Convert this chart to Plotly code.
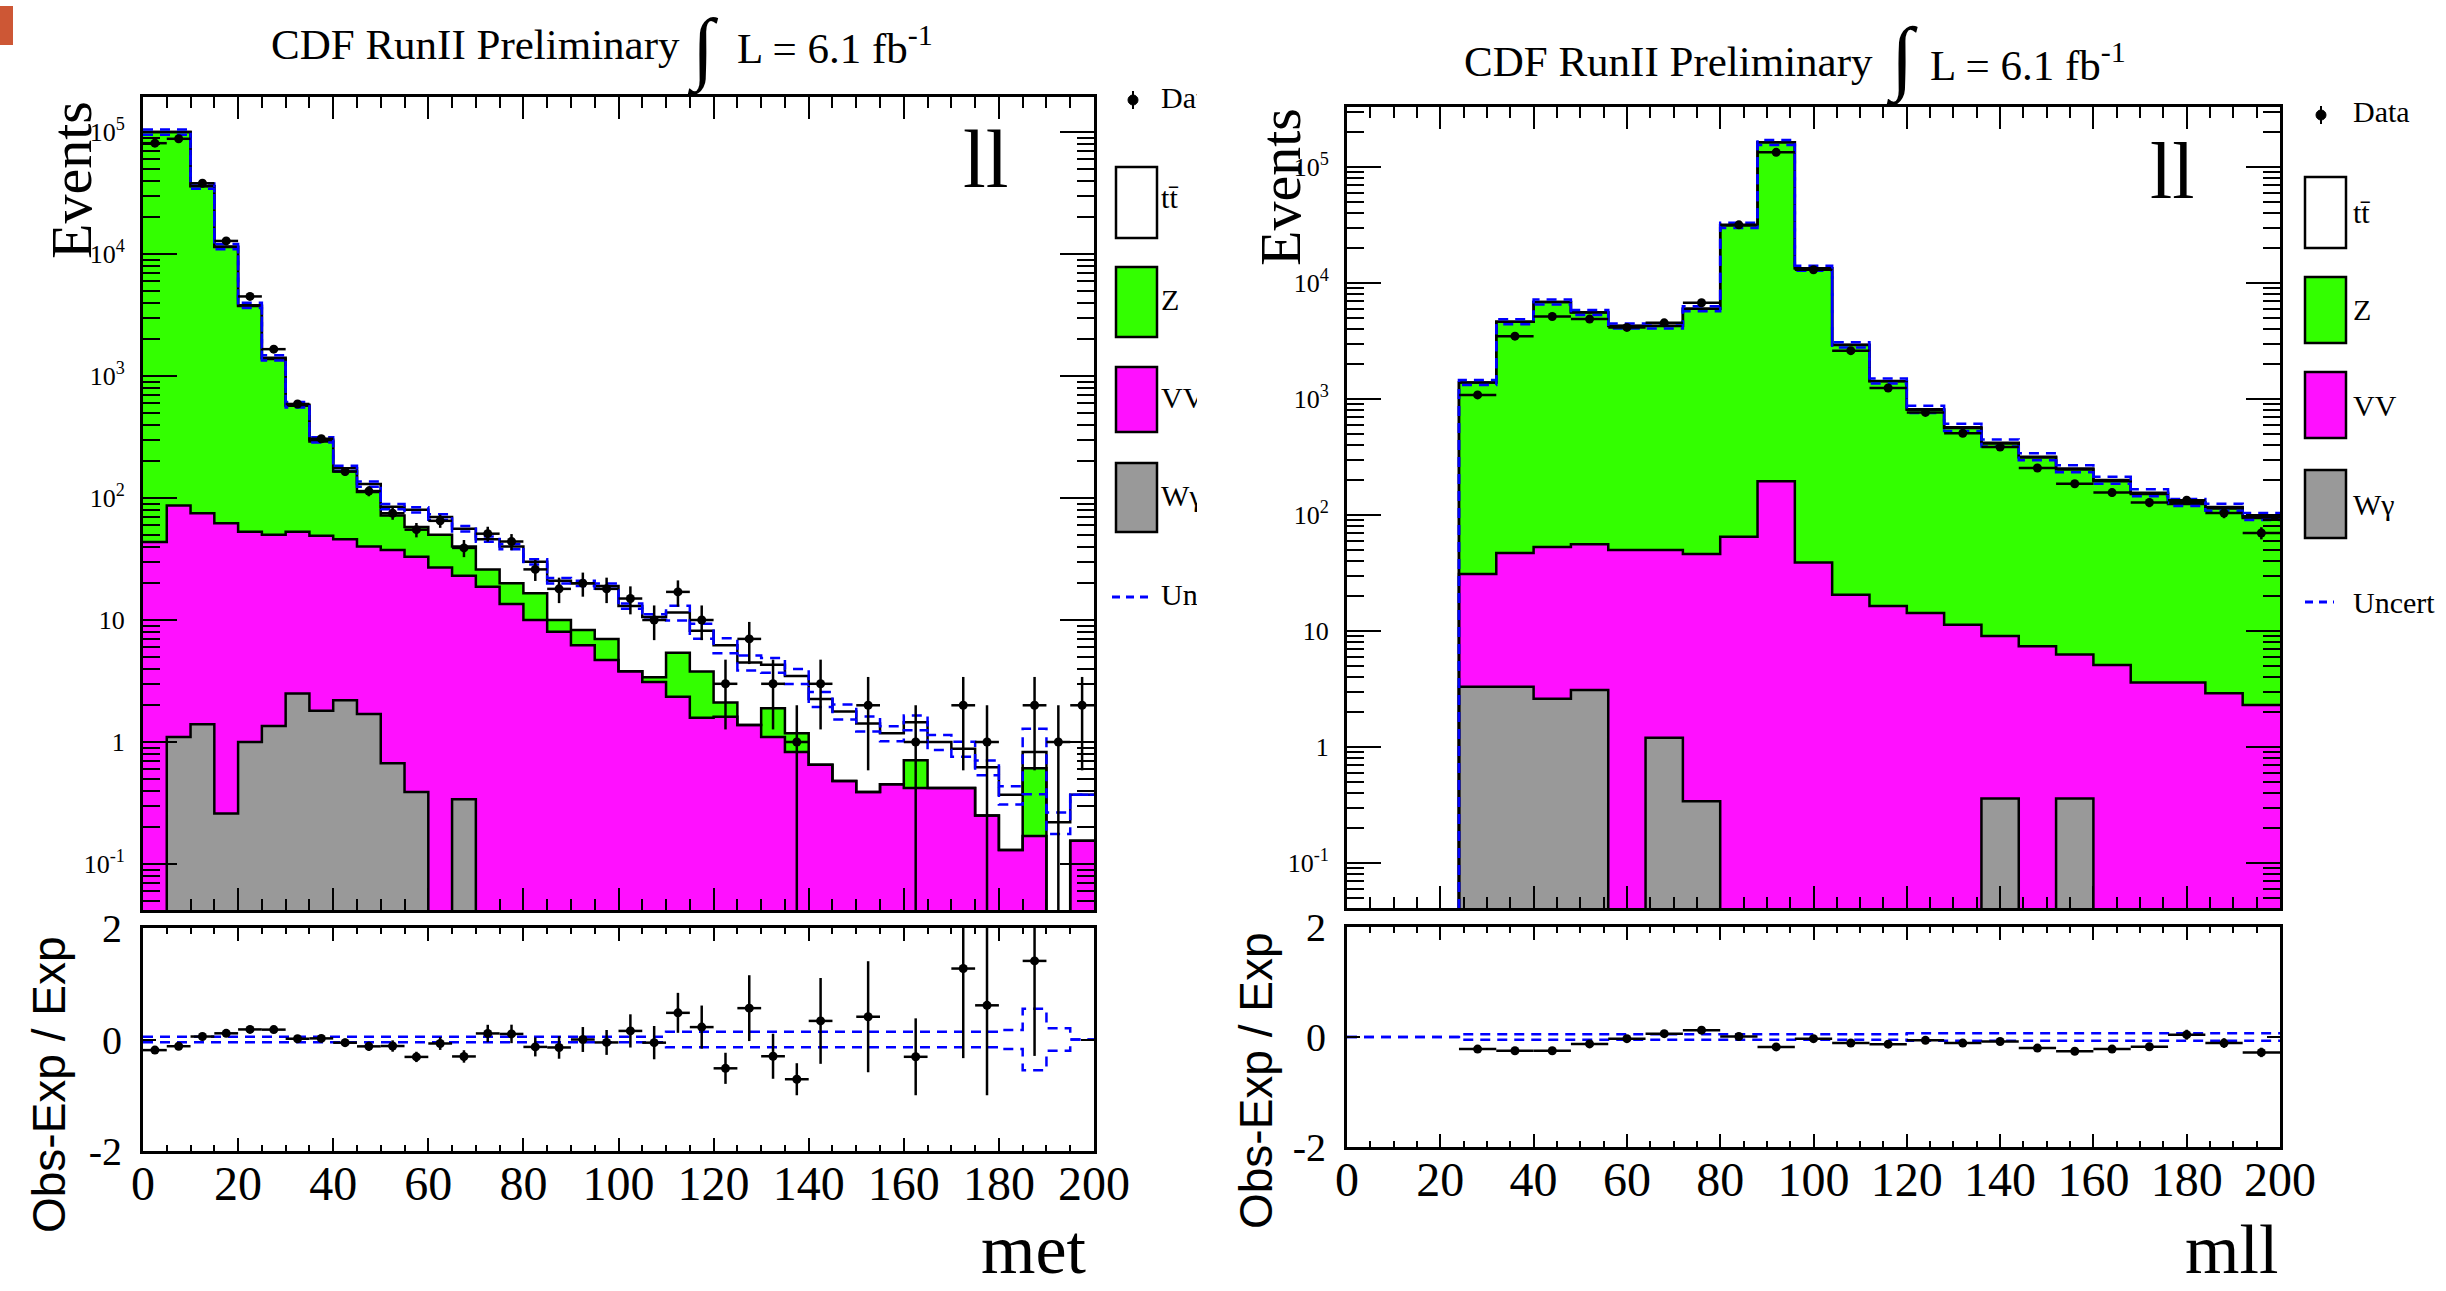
import numpy as np
import plotly.graph_objects as go

W, H = 2446, 1291

# ---------------- data: missing-ET panel (5 GeV bins, 0-200) ----------------
met_edges = [0, 5, 10, 15, 20, 25, 30, 35, 40, 45, 50, 55, 60, 65, 70, 75, 80, 85, 90, 95, 100,
             105, 110, 115, 120, 125, 130, 135, 140, 145, 150, 155, 160, 165, 170, 175, 180, 185, 190, 195, 200]
met_wgamma = [0, 1.1, 1.4, 0.26, 1.0, 1.35, 2.5, 1.8, 2.2, 1.7,
              0.67, 0.39, 0, 0.34, 0, 0, 0, 0, 0, 0,
              0, 0, 0, 0, 0, 0, 0, 0, 0, 0,
              0, 0, 0, 0, 0, 0, 0, 0, 0, 0]
met_vv = [43.6, 85.9, 73.6, 61.7, 52.0, 48.7, 50.5, 47.2, 43.8, 38.3,
          36.8, 32.6, 27.0, 22.7, 18.7, 13.5, 10.0, 8.0, 6.2, 4.7,
          3.8, 3.1, 2.35, 1.58, 1.61, 1.38, 1.1, 0.83, 0.65, 0.48,
          0.39, 0.45, 0.42, 0.42, 0.42, 0.25, 0.13, 0.17, 0.0, 0.155]
met_z = [99950, 99900, 35900, 11340, 3700, 1330, 517, 241, 119, 72,
         34.5, 25, 23, 17, 7.3, 6.5, 6.6, 2.0, 2.1, 2.3,
         0, 0.3, 3.05, 2.2, 0.5, 0, 0.79, 0.35, 0, 0,
         0, 0, 0.29, 0, 0, 0, 0, 0.44, 0, 0]
met_ttbar = [60, 80, 100, 120, 50, 30, 12, 10, 10, 18,
             13, 22, 20, 16, 20, 20, 13.4, 11, 11.7, 12,
             9.2, 7.2, 6.1, 4.4, 4.1, 3.1, 2.4, 2.3, 1.6, 1.3,
             1.03, 0.73, 0.74, 0.58, 0.46, 0.37, 0.24, 0.22, 0.22, 0.215]
met_data = [81000, 88000, 38000, 12800, 4490, 1660, 590, 306, 165, 114,
            75, 55, 65, 39, 51, 44, 26, 18, 20, 18,
            15, 10, 17, 10, 3, 7, 3, 1, 3, 0,
            2, 0, 1, 0, 2, 1, 0, 2, 1, 2]
met_rel_unc = [0.05, 0.05, 0.05, 0.05, 0.05, 0.05, 0.05, 0.05, 0.05, 0.05,
               0.05, 0.05, 0.05, 0.05, 0.05, 0.05, 0.05, 0.05, 0.05, 0.05,
               0.05, 0.05, 0.14, 0.14, 0.14, 0.14, 0.14, 0.14, 0.14, 0.14,
               0.14, 0.14, 0.14, 0.14, 0.14, 0.14, 0.17, 0.55, 0.2, 0.0]

# ---------------- data: dilepton mass panel (8 GeV bins, 0-200) ----------------
mll_edges = [0, 8, 16, 24, 32, 40, 48, 56, 64, 72, 80, 88, 96, 104, 112, 120, 128,
             136, 144, 152, 160, 168, 176, 184, 192, 200]
mll_wgamma = [0, 0, 0, 3.3, 3.3, 2.6, 3.1, 0, 1.2, 0.34, 0, 0, 0, 0, 0, 0, 0,
              0.36, 0, 0.36, 0, 0, 0, 0, 0]
mll_vv = [0, 0, 0, 27.7, 43.7, 50.4, 52.9, 50, 48.8, 45.7, 65, 195, 39, 20.5, 16.4,
          14.3, 11.3, 8.7, 7.4, 5.9, 5.1, 3.6, 3.6, 2.9, 2.3]
mll_z = [0, 0, 0, 1357, 4589, 6791, 5517, 4212, 4212, 5945, 31326, 162796, 13352,
         2901, 1406, 794, 552, 404, 305, 240, 190, 148, 121, 111, 92]
mll_ttbar = [0, 0, 0, 2, 4, 6, 7, 8, 8, 9, 9, 9, 9, 8, 8, 7, 7, 6, 6, 5, 5, 4, 4, 3, 3]
mll_data = [0, 0, 0, 1084, 3480, 5140, 4880, 4140, 4530, 6750, 31700, 133700, 13000,
            2610, 1244, 766, 507, 385, 254, 186, 156, 128, 134, 104, 70]
mll_rel_unc = [0, 0, 0, 0.05, 0.05, 0.05, 0.05, 0.05, 0.05, 0.05, 0.05, 0.05, 0.05,
               0.05, 0.05, 0.07, 0.07, 0.07, 0.07, 0.07, 0.07, 0.07, 0.07, 0.07, 0.07]

# ---------------- tick labels / texts ----------------
x_tickvals = [0, 20, 40, 60, 80, 100, 120, 140, 160, 180, 200]
x_ticktext = ["0", "20", "40", "60", "80", "100", "120", "140", "160", "180", "200"]
log_tickvals = [0.1, 1, 10, 100, 1000, 10000, 100000]
log_ticktext = ["10<sup>-1</sup>", "1", "10", "10<sup>2</sup>", "10<sup>3</sup>",
                "10<sup>4</sup>", "10<sup>5</sup>"]
log_minorvals = [m * 10.0 ** e for e in range(-2, 6) for m in range(2, 10)]
ratio_tickvals = [-2, 0, 2]
ratio_ticktext = ["-2", "0", "2"]
legend_labels_left = ["Data", "tt\u0304", "Z", "VV", "W\u03b3", "Uncertainty"]
legend_labels_right = ["Data", "tt\u0304", "Z", "VV", "W\u03b3", "Uncert"]

GREEN = "#33ff00"
MAGENTA = "#ff10ff"
GREY = "#999999"
BLUE = "#0000ff"
SERIF = "Liberation Serif"
SANS = "Liberation Sans"


def fx(p):
    return p / W


def fy(p):
    return 1 - p / H


fig = go.Figure()


def steps(edges, vals, floor=None):
    ys = [(max(v, floor) if floor is not None else v) for v in vals]
    return list(edges), ys + [ys[-1]]


def draw_panel(edges, wg, vv, z, tt, data, unc, main, ratio):
    e = np.asarray(edges, float)
    c = 0.5 * (e[:-1] + e[1:])
    w = np.diff(e)
    g = np.asarray(wg, float)
    m = g + np.asarray(vv, float)
    zz = m + np.asarray(z, float)
    tot = zz + np.asarray(tt, float)
    d = np.asarray(data, float)
    u = np.asarray(unc, float)
    xa, ya = main
    for lvl, col in ((zz, GREEN), (m, MAGENTA), (g, GREY)):
        fig.add_trace(go.Bar(x=c, y=np.where(lvl > 0, lvl, np.nan), width=w,
                             marker=dict(color=col, line=dict(width=0)),
                             xaxis=xa, yaxis=ya, hoverinfo="skip", showlegend=False))
    for lvl in (tot, zz, m, g):
        sx, sy = steps(e, lvl, floor=1e-6)
        fig.add_trace(go.Scatter(x=sx, y=sy, mode="lines",
                                 line=dict(color="black", width=2.5, shape="hv"),
                                 xaxis=xa, yaxis=ya, hoverinfo="skip", showlegend=False))
    for sgn in (1, -1):
        sx, sy = steps(e, tot * (1 + sgn * u), floor=1e-6)
        fig.add_trace(go.Scatter(x=sx, y=sy, mode="lines",
                                 line=dict(color=BLUE, width=2.5, dash="10px,7px", shape="hv"),
                                 xaxis=xa, yaxis=ya, hoverinfo="skip", showlegend=False))
    sel = d > 0
    fig.add_trace(go.Scatter(x=c[sel], y=d[sel], mode="markers",
                             marker=dict(color="black", size=9),
                             error_y=dict(type="data", array=np.sqrt(d[sel]), color="black",
                                          thickness=2.5, width=0),
                             error_x=dict(type="data", array=w[sel] / 2, color="black",
                                          thickness=2.5, width=0),
                             xaxis=xa, yaxis=ya, hoverinfo="skip", showlegend=False))
    # ratio panel
    rxa, rya = ratio
    for sgn in (1, -1):
        sx, sy = steps(e, sgn * u)
        fig.add_trace(go.Scatter(x=sx, y=sy, mode="lines",
                                 line=dict(color=BLUE, width=2.5, dash="10px,7px", shape="hv"),
                                 xaxis=rxa, yaxis=rya, hoverinfo="skip", showlegend=False))
    ok = (d > 0) & (tot > 0)
    safe = np.where(tot > 0, tot, 1.0)
    r = (d - tot) / safe
    re = np.sqrt(d) / safe
    sel = ok & (np.abs(r) <= 2)
    fig.add_trace(go.Scatter(x=c[sel], y=r[sel], mode="markers",
                             marker=dict(color="black", size=9),
                             error_y=dict(type="data", array=re[sel], color="black",
                                          thickness=2.5, width=0),
                             error_x=dict(type="data", array=w[sel] / 2, color="black",
                                          thickness=2.5, width=0),
                             xaxis=rxa, yaxis=rya, hoverinfo="skip", showlegend=False))


draw_panel(met_edges, met_wgamma, met_vv, met_z, met_ttbar, met_data, met_rel_unc,
           ("x", "y"), ("x2", "y2"))
draw_panel(mll_edges, mll_wgamma, mll_vv, mll_z, mll_ttbar, mll_data, mll_rel_unc,
           ("x3", "y3"), ("x4", "y4"))

# legend labels; the left ones are clipped like in the reference (text trace on an invisible axis)
left_label_y = [100, 200, 302, 400, 498, 597]
right_label_y = [112, 212, 310, 405, 504, 602]
fig.add_trace(go.Scatter(x=[0.03] * 6, y=[fy(v) for v in left_label_y], mode="text",
                         text=legend_labels_left, textposition="middle right",
                         textfont=dict(size=30, family=SERIF, color="black"),
                         cliponaxis=True, xaxis="x5", yaxis="y5",
                         hoverinfo="skip", showlegend=False))

common = dict(showline=True, linecolor="black", linewidth=3, mirror="allticks",
              ticks="inside", tickcolor="black", tickwidth=2, showgrid=False,
              zeroline=False, fixedrange=True, automargin=False)


def x_main(domain, anchor):
    return dict(common, domain=domain, anchor=anchor, range=[0, 200], tickmode="array",
                tickvals=x_tickvals, ticktext=x_ticktext, showticklabels=False, ticklen=22,
                minor=dict(tickmode="linear", tick0=0, dtick=5, ticks="inside", ticklen=11,
                           tickwidth=2, tickcolor="black"))


def x_ratio(domain, anchor):
    return dict(common, domain=domain, anchor=anchor, range=[0, 200], tickmode="array",
                tickvals=x_tickvals, ticktext=x_ticktext, showticklabels=True, ticklen=13,
                tickfont=dict(size=48, family=SERIF, color="black"), ticklabelstandoff=-12,
                minor=dict(tickmode="linear", tick0=0, dtick=5, ticks="inside", ticklen=6,
                           tickwidth=2, tickcolor="black"))


def y_main(domain, anchor, rng):
    return dict(common, domain=domain, anchor=anchor, type="log", range=rng,
                tickmode="array", tickvals=log_tickvals, ticktext=log_ticktext, ticklen=34,
                tickfont=dict(size=26, family=SERIF, color="black"), ticklabelstandoff=10,
                minor=dict(tickmode="array", tickvals=log_minorvals, ticks="inside",
                           ticklen=17, tickwidth=2, tickcolor="black"))


def y_ratio(domain, anchor):
    return dict(common, domain=domain, anchor=anchor, range=[-2, 2], tickmode="array",
                tickvals=ratio_tickvals, ticktext=ratio_ticktext, ticklen=13,
                tickfont=dict(size=40, family=SERIF, color="black"), ticklabelstandoff=10)


LX = [fx(143), fx(1094)]
RX = [fx(1347), fx(2280)]
hidden = dict(visible=False, range=[0, 1], fixedrange=True, showgrid=False, zeroline=False,
              automargin=False)

# ---------------- annotations ----------------
ann = []


def text(x, y, s, size, family=SERIF, xanchor="center", yanchor="middle", angle=0):
    ann.append(dict(x=fx(x), y=fy(y), xref="paper", yref="paper", text=s, showarrow=False,
                    font=dict(size=size, family=family, color="black"),
                    xanchor=xanchor, yanchor=yanchor, textangle=angle))


text(682, 45, "CDF RunII Preliminary", 43, xanchor="right")
text(703, 1, "\u222b", 80, yanchor="top")
text(735, 45, "L = 6.1 fb<sup>-1</sup>", 43, xanchor="left")
text(1875, 62, "CDF RunII Preliminary", 43, xanchor="right")
text(1902, 58, "\u222b", 82)
text(1928, 62, "L = 6.1 fb<sup>-1</sup>", 43, xanchor="left")
text(986, 159, "ll", 82)
text(2172, 171, "ll", 80)
text(72, 180, "Events", 58, angle=-90)
text(1280, 187, "Events", 58, angle=-90)
text(49, 1085, "Obs-Exp / Exp", 46, family=SANS, angle=-90)
text(1256, 1081, "Obs-Exp / Exp", 46, family=SANS, angle=-90)
text(1089, 1290, "met", 70, xanchor="right", yanchor="bottom")
text(2280, 1290, "mll", 70, xanchor="right", yanchor="bottom")
for lab, yy in zip(legend_labels_right, right_label_y):
    text(2351, yy, lab, 30, xanchor="left")

# ---------------- legend symbols ----------------
shapes = []


def box(x0, y0, x1, y1, col):
    shapes.append(dict(type="rect", xref="paper", yref="paper", x0=fx(x0), x1=fx(x1),
                       y0=fy(y1), y1=fy(y0), fillcolor=col, line=dict(color="black", width=2.5)))


for (bx0, bx1), ys in (((1116, 1157), [(167, 238), (267, 337), (367, 432), (463, 532)]),
                       ((2305, 2346), [(177, 248), (277, 343), (372, 438), (470, 538)])):
    for (y0, y1), col in zip(ys, ["white", GREEN, MAGENTA, GREY]):
        box(bx0, y0, bx1, y1, col)

for (x0, x1, yy) in ((1112, 1151, 597), (2305, 2334, 602)):
    shapes.append(dict(type="line", xref="paper", yref="paper", x0=fx(x0), x1=fx(x1),
                       y0=fy(yy), y1=fy(yy), line=dict(color=BLUE, width=3, dash="8px,6px")))

for (cx, cy) in ((1133, 100), (2321, 115)):
    shapes.append(dict(type="circle", xref="paper", yref="paper", x0=fx(cx - 5), x1=fx(cx + 5),
                       y0=fy(cy + 5), y1=fy(cy - 5), fillcolor="black",
                       line=dict(color="black", width=1)))
    shapes.append(dict(type="line", xref="paper", yref="paper", x0=fx(cx), x1=fx(cx),
                       y0=fy(cy + 9), y1=fy(cy - 9), line=dict(color="black", width=2)))

# small red mark in the top-left corner
shapes.append(dict(type="rect", xref="paper", yref="paper", x0=0, x1=fx(13), y0=fy(45), y1=fy(6),
                   fillcolor="#c43a12", line=dict(width=0), opacity=0.85))

fig.update_layout(
    width=W, height=H, margin=dict(l=0, r=0, t=0, b=0, pad=0), autosize=False,
    paper_bgcolor="white", plot_bgcolor="rgba(0,0,0,0)",
    barmode="overlay", bargap=0, showlegend=False,
    xaxis=x_main(LX, "y"), yaxis=y_main([fy(910), fy(97)], "x", [-1.377, 5.287]),
    xaxis2=x_ratio(LX, "y2"), yaxis2=y_ratio([fy(1151), fy(928)], "x2"),
    xaxis3=x_main(RX, "y3"), yaxis3=y_main([fy(908), fy(107)], "x3", [-1.388, 5.517]),
    xaxis4=x_ratio(RX, "y4"), yaxis4=y_ratio([fy(1147), fy(927)], "x4"),
    xaxis5=dict(hidden, domain=[fx(1160), fx(1197)], anchor="y5"),
    yaxis5=dict(hidden, domain=[0, 1], anchor="x5"),
    annotations=ann, shapes=shapes,
)

fig.write_html("out.html",
               config={"displayModeBar": False, "responsive": False},
               post_script="document.body.style.margin='0px';"
                           "document.documentElement.style.overflow='hidden';"
                           "document.body.style.overflow='hidden';")
